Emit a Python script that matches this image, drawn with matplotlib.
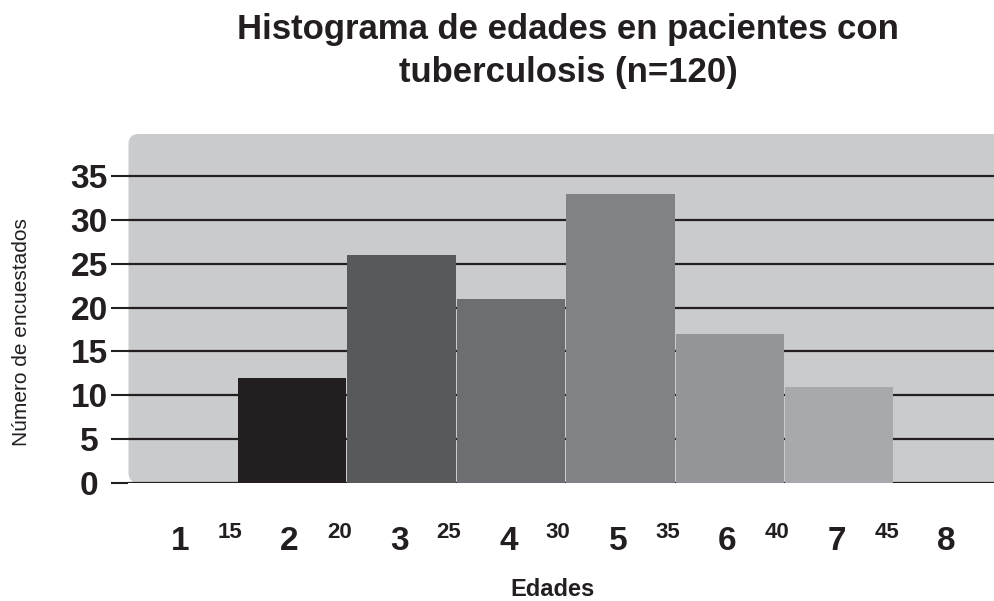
import numpy as np
import matplotlib
matplotlib.use("Agg")
import matplotlib.pyplot as plt
from matplotlib.patches import FancyBboxPatch
from matplotlib.transforms import blended_transform_factory, ScaledTranslation

plt.rcParams['font.family'] = ['Liberation Sans', 'DejaVu Sans']

# datos
clases = [1, 2, 3, 4, 5, 6, 7, 8]
limites = [15, 20, 25, 30, 35, 40, 45]
frecuencias = [0, 12, 26, 21, 33, 17, 11, 0]
colores = ['#cacbcd', '#231f20', '#58595b', '#6d6e71', '#808285', '#939598', '#a7a9ac', '#cacbcd']
yticks = [0, 5, 10, 15, 20, 25, 30, 35]
titulo = ['Histograma de edades en pacientes con', 'tuberculosis (n=120)']

ink = '#231f20'
fondo = '#cacbcd'

fig = plt.figure(figsize=(9.95, 6.01), dpi=100)
ax = fig.add_axes([128.5 / 995, 118 / 601, 875.5 / 995, 349 / 601])

# panel gris con esquinas redondeadas
ax.patch.set_visible(False)
asp = 875.5 / 349
panel = FancyBboxPatch((0, 0), 1, 1, boxstyle="round,pad=0,rounding_size=%f" % (10 / 875.5),
                       mutation_aspect=asp, transform=ax.transAxes,
                       facecolor=fondo, edgecolor='none', zorder=0, clip_on=False)
ax.add_patch(panel)

x = np.arange(len(clases))
for i in range(len(clases)):
    if frecuencias[i] > 0:
        ax.bar(x[i], frecuencias[i], width=0.99, align='edge', color=colores[i], zorder=2)

ax.set_xlim(0, 8)
ax.set_ylim(0, 39.8)
ax.set_yticks(yticks)
ax.set_yticklabels([str(v) if v >= 10 else str(v) + ' ' for v in yticks],
                   fontsize=24, fontweight='bold', color=ink)
ax.tick_params(axis='y', length=12, width=1.5, color=ink, pad=3)
ax.yaxis.grid(True, color=ink, linewidth=1.6, zorder=1)
ax.set_axisbelow(True)
ax.set_xticks([])
for s in ax.spines.values():
    s.set_visible(False)

# etiquetas del eje x: numero de clase y limites
trans = blended_transform_factory(ax.transData, ax.transAxes)
for i, c in enumerate(clases):
    ax.text(x[i] + 0.5, -67 / 349, str(c), transform=trans + ScaledTranslation(-3 / 100, 0, fig.dpi_scale_trans),
            ha='center', va='baseline', fontsize=24, fontweight='bold', color=ink)
for i, l in enumerate(limites):
    ax.text(x[i] + 1, -55 / 349, str(l), transform=trans + ScaledTranslation(-8 / 100, 0, fig.dpi_scale_trans),
            ha='center', va='baseline', fontsize=16, fontweight='bold', color=ink)

# titulo en dos lineas
for k, linea in enumerate(titulo):
    fig.text(568 / 995, 1 - (39 + 43 * k) / 601, linea, ha='center', va='baseline',
             fontsize=25, fontweight='bold', color=ink)
fig.text(22 / 995, 1 - 332 / 601, 'Número de encuestados', rotation=90,
         ha='center', va='center', fontsize=15, color=ink)
fig.text(553 / 995, 5 / 601, 'Edades', ha='center', va='baseline',
         fontsize=17, fontweight='bold', color=ink)

fig.savefig('out.png', dpi=100)
